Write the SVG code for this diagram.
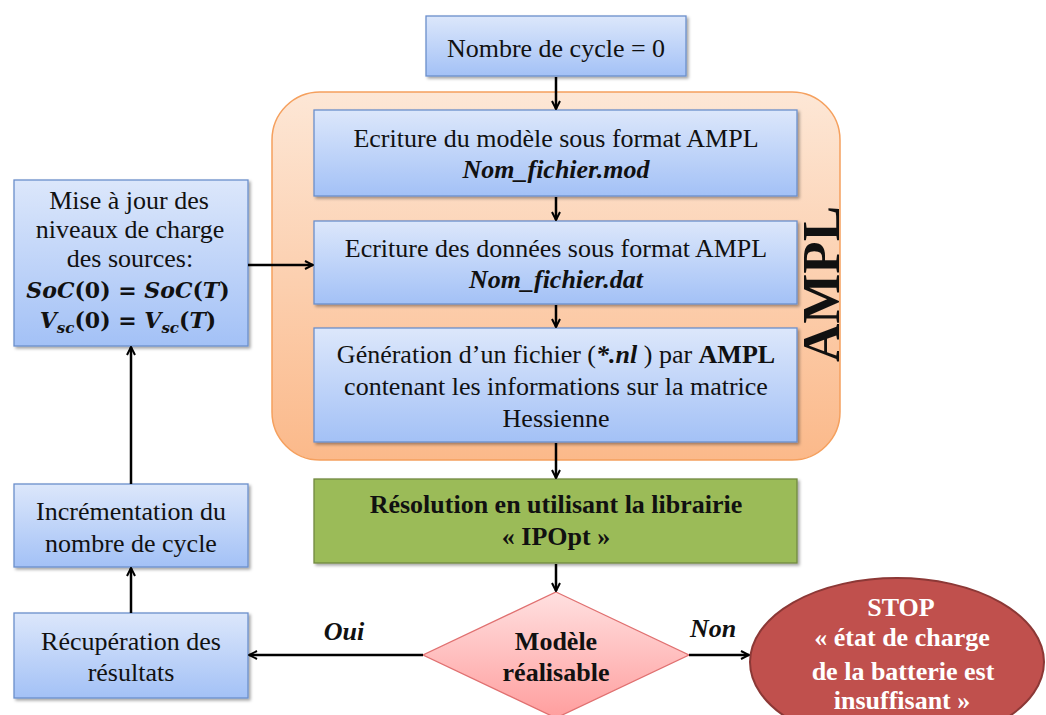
<svg xmlns="http://www.w3.org/2000/svg" width="1046" height="715" viewBox="0 0 1046 715">
<defs>
<linearGradient id="blue" x1="0" y1="0" x2="0" y2="1"><stop offset="0" stop-color="#DCE7FB"/><stop offset="1" stop-color="#A3C1F6"/></linearGradient>
<linearGradient id="orange" x1="0" y1="0" x2="0" y2="1"><stop offset="0" stop-color="#FDE7D6"/><stop offset="1" stop-color="#FBB98A"/></linearGradient>
<linearGradient id="pink" x1="0" y1="0" x2="0" y2="1"><stop offset="0" stop-color="#FFE0E0"/><stop offset="1" stop-color="#FF9E9E"/></linearGradient>
<filter id="sh" x="-10%" y="-10%" width="130%" height="130%"><feDropShadow dx="2" dy="2" stdDeviation="1.5" flood-color="#000" flood-opacity="0.35"/></filter>
<marker id="ah" viewBox="0 0 10 10" refX="9" refY="5" markerWidth="10" markerHeight="10" markerUnits="userSpaceOnUse" orient="auto"><path d="M1,1 L9,5 L1,9" fill="none" stroke="#000" stroke-width="2"/></marker>
</defs>
<style>
.box{fill:url(#blue);stroke:#6A8FCB;stroke-width:1.3;filter:url(#sh)}
.t{font-family:"Liberation Serif","Times New Roman",serif;font-size:26px;fill:#111;text-anchor:middle}
.b{font-weight:bold}
.i{font-style:italic}
.w{fill:#fff}
.big{font-size:53px}
.c{stroke:#000;stroke-width:2.5;fill:none;marker-end:url(#ah)}
.m{font-family:"DejaVu Serif",serif;font-size:22px;font-weight:bold;fill:#111;text-anchor:middle}
.sub{font-size:15px;font-style:italic}
</style>
<g id="ampl-container">
<rect x="272" y="92" width="568" height="368" rx="48" fill="url(#orange)" stroke="#F5A05E" stroke-width="1.5"/>
<text class="t b big" x="0" y="0" transform="translate(839,284) rotate(-90)">AMPL</text>
</g>
<g id="start"><rect class="box" x="426" y="16" width="260" height="60"/><text class="t" x="556" y="57">Nombre de cycle = 0</text></g>
<g id="mod"><rect class="box" x="314" y="110" width="483" height="86"/><text class="t" x="556" y="147">Ecriture du modèle sous format AMPL</text><text class="t b i" x="556" y="178">Nom_fichier.mod</text></g>
<g id="dat"><rect class="box" x="314" y="221" width="483" height="83"/><text class="t" x="556" y="257">Ecriture des données sous format AMPL</text><text class="t b i" x="556" y="288">Nom_fichier.dat</text></g>
<g id="nl"><rect class="box" x="314" y="328" width="483" height="114"/><text class="t" x="556" y="363">Génération d’un fichier (<tspan class="b i">*.nl</tspan> ) par <tspan class="b">AMPL</tspan></text><text class="t" x="556" y="395">contenant les informations sur la matrice</text><text class="t" x="556" y="427">Hessienne</text></g>
<g id="ipopt"><rect x="314" y="479" width="483" height="84" fill="#9BBB59" stroke="#71893F" stroke-width="1.3" filter="url(#sh)"/><text class="t b" x="556" y="513">Résolution en utilisant la librairie</text><text class="t b" x="556" y="545">« IPOpt »</text></g>
<g id="decision"><polygon points="556,592 689,655 556,718 423,655" fill="url(#pink)" stroke="#E07070" stroke-width="1.3"/><text class="t b" x="556" y="650">Modèle</text><text class="t b" x="556" y="681">réalisable</text></g>
<g id="stop"><ellipse cx="897" cy="662" rx="147" ry="84" fill="#C0504D" stroke="#8C3836" stroke-width="2"/><text class="t b w" x="901" y="616">STOP</text><text class="t b w" x="902" y="646">« état de charge</text><text class="t b w" x="903" y="680">de la batterie est</text><text class="t b w" x="902" y="709">insuffisant »</text></g>
<g id="update"><rect class="box" x="14" y="180" width="234" height="166"/><text class="t" x="129" y="209">Mise à jour des</text><text class="t" x="130" y="238">niveaux de charge</text><text class="t" x="130" y="267">des sources:</text>
<text class="m" x="128" y="298"><tspan font-style="italic">SoC</tspan>(0) = <tspan font-style="italic">SoC</tspan>(<tspan font-style="italic">T</tspan>)</text>
<text class="m" x="128" y="328"><tspan font-style="italic">V</tspan><tspan class="sub" dy="5">sc</tspan><tspan dy="-5">(0) = </tspan><tspan font-style="italic">V</tspan><tspan class="sub" dy="5">sc</tspan><tspan dy="-5">(</tspan><tspan font-style="italic">T</tspan>)</text></g>
<g id="increment"><rect class="box" x="14" y="484" width="234" height="83"/><text class="t" x="131" y="520">Incrémentation du</text><text class="t" x="131" y="552">nombre de cycle</text></g>
<g id="results"><rect class="box" x="14" y="613" width="234" height="85"/><text class="t" x="131" y="650">Récupération des</text><text class="t" x="131" y="681">résultats</text></g>
<g id="connectors">
<line class="c" x1="556" y1="77" x2="556" y2="109"/>
<line class="c" x1="556" y1="197" x2="556" y2="220"/>
<line class="c" x1="556" y1="305" x2="556" y2="327"/>
<line class="c" x1="556" y1="443" x2="556" y2="478"/>
<line class="c" x1="556" y1="564" x2="556" y2="591"/>
<line class="c" x1="248" y1="265" x2="313" y2="265"/>
<line class="c" x1="423" y1="655" x2="249" y2="655"/>
<line class="c" x1="689" y1="655" x2="749" y2="655"/>
<line class="c" x1="131" y1="613" x2="131" y2="568"/>
<line class="c" x1="131" y1="484" x2="131" y2="347"/>
<text class="t b i" x="344" y="640">Oui</text>
<text class="t b i" x="713" y="637">Non</text>
</g>
</svg>
